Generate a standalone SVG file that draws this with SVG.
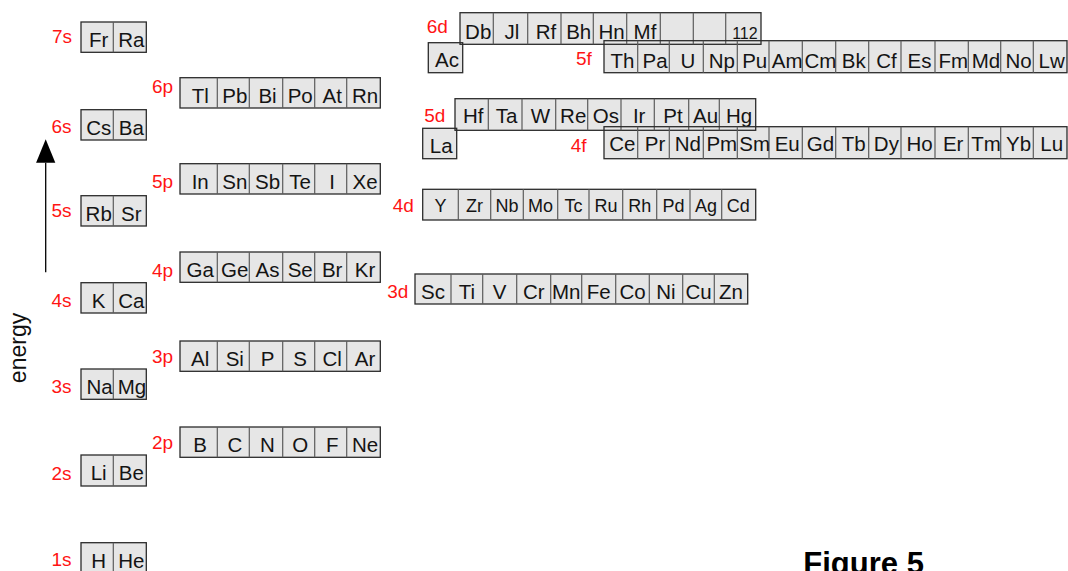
<svg xmlns="http://www.w3.org/2000/svg" width="1068" height="571" viewBox="0 0 1068 571">
<defs>
<style>
.f{fill:#e6e6e6;stroke:none}
.b{fill:none;stroke:#2b2b2b;stroke-width:1.3}
.d{fill:none;stroke:#5c5c5c;stroke-width:1.2}
text{font-family:"Liberation Sans",Arial,sans-serif}
.e{font-size:20.5px;text-anchor:middle;fill:#141414}
.sm{font-size:18px}
.xs{font-size:16px}
.l{font-size:19px;fill:#ff1414}
</style>
<marker id="ah" markerUnits="userSpaceOnUse" viewBox="-1 -11 26 22" markerWidth="26" markerHeight="22" refX="0" refY="0" orient="auto">
<path d="M0,-9.6 L23.4,0 L0,9.6 Z" fill="#000"/>
</marker>
</defs>
<rect width="1068" height="571" fill="#fff"/>

<g id="fills">
<rect class="f" x="81" y="22" width="65.3" height="30.3"/>
<rect class="f" x="81" y="109.7" width="65.3" height="30.3"/>
<rect class="f" x="81" y="195.7" width="65.3" height="30.3"/>
<rect class="f" x="81" y="282.7" width="65.3" height="30.3"/>
<rect class="f" x="81" y="369" width="65.3" height="30.3"/>
<rect class="f" x="81" y="455" width="65.3" height="31"/>
<rect class="f" x="81" y="542.7" width="65.3" height="31"/>
<rect class="f" x="180" y="77.7" width="200.3" height="30.3"/>
<rect class="f" x="180" y="163.7" width="200.3" height="30.3"/>
<rect class="f" x="180" y="252" width="200.3" height="30.3"/>
<rect class="f" x="180" y="341" width="200.3" height="30.3"/>
<rect class="f" x="180" y="427" width="200.3" height="30.3"/>
<rect class="f" x="460" y="12.7" width="301" height="31.6"/>
<rect class="f" x="428.3" y="42.7" width="34.4" height="30"/>
<rect class="f" x="604" y="40.7" width="463" height="32"/>
<rect class="f" x="455" y="98.7" width="300.7" height="31.6"/>
<rect class="f" x="422.7" y="128.3" width="34" height="30.4"/>
<rect class="f" x="604" y="126.7" width="463" height="32"/>
<rect class="f" x="422.7" y="189.3" width="333" height="30.7"/>
<rect class="f" x="415" y="274" width="332.7" height="30"/>
</g>

<g id="connectors">
<line x1="45.7" y1="272.3" x2="45.7" y2="162.7" stroke="#000" stroke-width="1.3" marker-end="url(#ah)"/>
</g>

<text x="25.5" y="348" transform="rotate(-90 25.5 348)" text-anchor="middle" font-size="23" fill="#111">energy</text>

<g id="s7">
<rect class="b" x="81" y="22" width="65.3" height="30.3"/>
<path class="d" d="M113.3,22V52.3"/>
<text class="l" x="52" y="43.3">7s</text>
<text class="e" x="98.7" y="47.3">Fr</text><text class="e" x="131.3" y="47.3">Ra</text>
</g>
<g id="s6">
<rect class="b" x="81" y="109.7" width="65.3" height="30.3"/>
<path class="d" d="M113.3,109.7V140"/>
<text class="l" x="51.5" y="132.7">6s</text>
<text class="e" x="98.7" y="135">Cs</text><text class="e" x="131.3" y="135">Ba</text>
</g>
<g id="s5">
<rect class="b" x="81" y="195.7" width="65.3" height="30.3"/>
<path class="d" d="M113.3,195.7V226"/>
<text class="l" x="51.5" y="216.7">5s</text>
<text class="e" x="98.7" y="221">Rb</text><text class="e" x="131.3" y="221">Sr</text>
</g>
<g id="s4">
<rect class="b" x="81" y="282.7" width="65.3" height="30.3"/>
<path class="d" d="M113.3,282.7V313"/>
<text class="l" x="51.5" y="306.7">4s</text>
<text class="e" x="98.7" y="308">K</text><text class="e" x="131.3" y="308">Ca</text>
</g>
<g id="s3">
<rect class="b" x="81" y="369" width="65.3" height="30.3"/>
<path class="d" d="M113.3,369V399.3"/>
<text class="l" x="51.5" y="392.7">3s</text>
<text class="e" x="99.5" y="394.3">Na</text><text class="e" x="132" y="394.3">Mg</text>
</g>
<g id="s2">
<rect class="b" x="81" y="455" width="65.3" height="31"/>
<path class="d" d="M113.3,455V486"/>
<text class="l" x="51.5" y="480">2s</text>
<text class="e" x="98.7" y="480.3">Li</text><text class="e" x="131.3" y="480.3">Be</text>
</g>
<g id="s1">
<rect class="b" x="81" y="542.7" width="65.3" height="31"/>
<path class="d" d="M113.3,542.7V573.7"/>
<text class="l" x="51.5" y="566">1s</text>
<text class="e" x="98.7" y="568">H</text><text class="e" x="131.3" y="568">He</text>
</g>

<g id="p6">
<rect class="b" x="180" y="77.7" width="200.3" height="30.3"/>
<path class="d" d="M217.3,77.7V108M249.3,77.7V108M282.7,77.7V108M314.7,77.7V108M346.7,77.7V108"/>
<text class="l" x="152" y="93">6p</text>
<text class="e" x="200.2" y="102.7">Tl</text><text class="e" x="234.8" y="102.7">Pb</text><text class="e" x="267.5" y="102.7">Bi</text><text class="e" x="300.2" y="102.7">Po</text><text class="e" x="332.2" y="102.7">At</text><text class="e" x="365" y="102.7">Rn</text>
</g>
<g id="p5">
<rect class="b" x="180" y="163.7" width="200.3" height="30.3"/>
<path class="d" d="M217.3,163.7V194M249.3,163.7V194M282.7,163.7V194M314.7,163.7V194M346.7,163.7V194"/>
<text class="l" x="152" y="187.7">5p</text>
<text class="e" x="200.2" y="188.7">In</text><text class="e" x="234.8" y="188.7">Sn</text><text class="e" x="267.5" y="188.7">Sb</text><text class="e" x="300.2" y="188.7">Te</text><text class="e" x="332.2" y="188.7">I</text><text class="e" x="365" y="188.7">Xe</text>
</g>
<g id="p4">
<rect class="b" x="180" y="252" width="200.3" height="30.3"/>
<path class="d" d="M217.3,252V282.3M249.3,252V282.3M282.7,252V282.3M314.7,252V282.3M346.7,252V282.3"/>
<text class="l" x="152" y="276.7">4p</text>
<text class="e" x="200.2" y="277">Ga</text><text class="e" x="234.8" y="277">Ge</text><text class="e" x="267.5" y="277">As</text><text class="e" x="300.2" y="277">Se</text><text class="e" x="332.2" y="277">Br</text><text class="e" x="365" y="277">Kr</text>
</g>
<g id="p3">
<rect class="b" x="180" y="341" width="200.3" height="30.3"/>
<path class="d" d="M217.3,341V371.3M249.3,341V371.3M282.7,341V371.3M314.7,341V371.3M346.7,341V371.3"/>
<text class="l" x="152" y="362.7">3p</text>
<text class="e" x="200.2" y="366">Al</text><text class="e" x="234.8" y="366">Si</text><text class="e" x="267.5" y="366">P</text><text class="e" x="300.2" y="366">S</text><text class="e" x="332.2" y="366">Cl</text><text class="e" x="365" y="366">Ar</text>
</g>
<g id="p2">
<rect class="b" x="180" y="427" width="200.3" height="30.3"/>
<path class="d" d="M217.3,427V457.3M249.3,427V457.3M282.7,427V457.3M314.7,427V457.3M346.7,427V457.3"/>
<text class="l" x="152" y="449">2p</text>
<text class="e" x="200.2" y="452">B</text><text class="e" x="234.8" y="452">C</text><text class="e" x="267.5" y="452">N</text><text class="e" x="300.2" y="452">O</text><text class="e" x="332.2" y="452">F</text><text class="e" x="365" y="452">Ne</text>
</g>

<g id="d6">
<rect class="b" x="460" y="12.7" width="301" height="31.6"/>
<path class="d" d="M493.3,12.7V44.3M527.7,12.7V44.3M561,12.7V44.3M593.3,12.7V44.3M626.7,12.7V44.3M660.3,12.7V44.3M693.3,12.7V44.3M725.7,12.7V44.3"/>
<text class="l" x="426.7" y="33.3">6d</text>
<text class="e" x="478.2" y="39.3">Db</text><text class="e" x="512" y="39.3">Jl</text><text class="e" x="545.9" y="39.3">Rf</text><text class="e" x="578.7" y="39.3">Bh</text><text class="e" x="611.5" y="39.3">Hn</text><text class="e" x="645" y="39.3">Mf</text><text class="e xs" x="744.9" y="39.3">112</text>
</g>
<g id="ac">
<rect class="b" x="428.3" y="42.7" width="34.4" height="30"/>
<text class="e" x="447" y="66.7">Ac</text>
</g>
<g id="f5">
<rect class="b" x="604" y="40.7" width="463" height="32"/>
<path class="d" d="M637.7,40.7V72.7M669.3,40.7V72.7M703.3,40.7V72.7M737.3,40.7V72.7M769,40.7V72.7M802.3,40.7V72.7M835.7,40.7V72.7M868.7,40.7V72.7M901,40.7V72.7M935,40.7V72.7M968.3,40.7V72.7M1000.7,40.7V72.7M1033.3,40.7V72.7"/>
<text class="l" x="576" y="65">5f</text>
<text class="e" x="622.4" y="67.7">Th</text><text class="e" x="655" y="67.7">Pa</text><text class="e" x="687.8" y="67.7">U</text><text class="e" x="721.8" y="67.7">Np</text><text class="e" x="754.7" y="67.7">Pu</text><text class="e" x="787.2" y="67.7">Am</text><text class="e" x="820.5" y="67.7">Cm</text><text class="e" x="853.7" y="67.7">Bk</text><text class="e" x="886.4" y="67.7">Cf</text><text class="e" x="919.5" y="67.7">Es</text><text class="e" x="953.2" y="67.7">Fm</text><text class="e" x="986" y="67.7">Md</text><text class="e" x="1018.5" y="67.7">No</text><text class="e" x="1051.7" y="67.7">Lw</text>
</g>
<g id="d5">
<rect class="b" x="455" y="98.7" width="300.7" height="31.6"/>
<path class="d" d="M488.3,98.7V130.3M522,98.7V130.3M555.7,98.7V130.3M587.7,98.7V130.3M621,98.7V130.3M654.3,98.7V130.3M688.7,98.7V130.3M719.3,98.7V130.3"/>
<text class="l" x="424.3" y="121.7">5d</text>
<text class="e" x="473.2" y="123.3">Hf</text><text class="e" x="506.7" y="123.3">Ta</text><text class="e" x="540.4" y="123.3">W</text><text class="e" x="573.2" y="123.3">Re</text><text class="e" x="605.9" y="123.3">Os</text><text class="e" x="639.2" y="123.3">Ir</text><text class="e" x="673" y="123.3">Pt</text><text class="e" x="705.5" y="123.3">Au</text><text class="e" x="739" y="123.3">Hg</text>
</g>
<g id="la">
<rect class="b" x="422.7" y="128.3" width="34" height="30.4"/>
<text class="e" x="441.2" y="152.7">La</text>
</g>
<g id="f4">
<rect class="b" x="604" y="126.7" width="463" height="32"/>
<path class="d" d="M637.7,126.7V158.7M669.3,126.7V158.7M703.3,126.7V158.7M737.3,126.7V158.7M769,126.7V158.7M802.3,126.7V158.7M835.7,126.7V158.7M868.7,126.7V158.7M901,126.7V158.7M935,126.7V158.7M968.3,126.7V158.7M1000.7,126.7V158.7M1033.3,126.7V158.7"/>
<text class="l" x="570.7" y="151.7">4f</text>
<text class="e" x="622.4" y="150.7">Ce</text><text class="e" x="655" y="150.7">Pr</text><text class="e" x="687.8" y="150.7">Nd</text><text class="e" x="721.8" y="150.7">Pm</text><text class="e" x="754.7" y="150.7">Sm</text><text class="e" x="787.2" y="150.7">Eu</text><text class="e" x="820.5" y="150.7">Gd</text><text class="e" x="853.7" y="150.7">Tb</text><text class="e" x="886.4" y="150.7">Dy</text><text class="e" x="919.5" y="150.7">Ho</text><text class="e" x="953.2" y="150.7">Er</text><text class="e" x="986" y="150.7">Tm</text><text class="e" x="1018.5" y="150.7">Yb</text><text class="e" x="1051.7" y="150.7">Lu</text>
</g>
<g id="d4">
<rect class="b" x="422.7" y="189.3" width="333" height="30.7"/>
<path class="d" d="M458.3,189.3V220M490.7,189.3V220M523.3,189.3V220M557.7,189.3V220M589,189.3V220M622.7,189.3V220M656.7,189.3V220M690,189.3V220M721.7,189.3V220"/>
<text class="l" x="392.7" y="212.3">4d</text>
<text class="e sm" x="440.5" y="211.7">Y</text><text class="e sm" x="474.5" y="211.7">Zr</text><text class="e sm" x="507" y="211.7">Nb</text><text class="e sm" x="540.5" y="211.7">Mo</text><text class="e sm" x="573.4" y="211.7">Tc</text><text class="e sm" x="605.9" y="211.7">Ru</text><text class="e sm" x="639.7" y="211.7">Rh</text><text class="e sm" x="673.4" y="211.7">Pd</text><text class="e sm" x="705.9" y="211.7">Ag</text><text class="e sm" x="738.2" y="211.7">Cd</text>
</g>
<g id="d3">
<rect class="b" x="415" y="274" width="332.7" height="30"/>
<path class="d" d="M451,274V304M482.7,274V304M516.7,274V304M550.7,274V304M581.7,274V304M615.7,274V304M649.3,274V304M682.7,274V304M714.3,274V304"/>
<text class="l" x="387.3" y="298.3">3d</text>
<text class="e" x="433" y="299.3">Sc</text><text class="e" x="466.9" y="299.3">Ti</text><text class="e" x="499.7" y="299.3">V</text><text class="e" x="533.7" y="299.3">Cr</text><text class="e" x="566.2" y="299.3">Mn</text><text class="e" x="598.7" y="299.3">Fe</text><text class="e" x="632.5" y="299.3">Co</text><text class="e" x="666" y="299.3">Ni</text><text class="e" x="698.5" y="299.3">Cu</text><text class="e" x="731" y="299.3">Zn</text>
</g>

<text x="803.3" y="574" font-size="31" font-weight="bold" fill="#000">Figure 5</text>
</svg>
